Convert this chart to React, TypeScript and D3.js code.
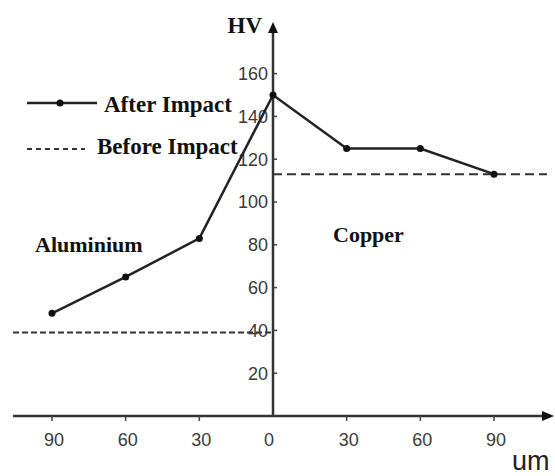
import React from "react";
import * as d3 from "d3";

const positions = [-90, -60, -30, 0, 30, 60, 90];
const afterImpact = [48, 65, 83, 150, 125, 125, 113];
const xTickLabels = ["90", "60", "30", "0", "30", "60", "90"];
const yTicks = [20, 40, 60, 80, 100, 120, 140, 160];
const beforeAluminium = 39;
const beforeCopper = 113;

const W = 555;
const H = 476;

export default function App() {
  const x = d3.scaleLinear().domain([-90, 90]).range([52, 494]);
  const y = d3.scaleLinear().domain([0, 160]).range([416, 73.6]);
  const x0 = x(0);
  const y0 = y(0);
  const axisLeft = 13;
  const axisRight = 554;
  const axisTop = 22;

  const line = d3
    .line<number>()
    .x((_, i) => x(positions[i]))
    .y((d) => y(d));

  const serif = "'Liberation Serif', 'Times New Roman', serif";
  const sans = "'Liberation Sans', Arial, sans-serif";

  return (
    <svg
      width={W}
      height={H}
      style={{ position: "absolute", left: 0, top: 0, background: "#fff" }}
    >
      {/* before impact dashed lines */}
      <line
        x1={axisLeft}
        x2={x0}
        y1={y(beforeAluminium)}
        y2={y(beforeAluminium)}
        stroke="#333"
        strokeWidth={2}
        strokeDasharray="6,3"
      />
      <line
        x1={x0}
        x2={547}
        y1={y(beforeCopper)}
        y2={y(beforeCopper)}
        stroke="#333"
        strokeWidth={2}
        strokeDasharray="9,5"
      />

      {/* axes */}
      <line x1={axisLeft} x2={axisRight - 8} y1={y0} y2={y0} stroke="#333" strokeWidth={2.5} />
      <path
        d={`M${axisRight},${y0} L${axisRight - 12},${y0 - 5} L${axisRight - 12},${y0 + 5} Z`}
        fill="#111"
      />
      <line x1={x0} x2={x0} y1={y0} y2={axisTop + 8} stroke="#333" strokeWidth={2.5} />
      <path
        d={`M${x0},${axisTop} L${x0 - 5},${axisTop + 11} L${x0 + 5},${axisTop + 11} Z`}
        fill="#111"
      />

      {/* y ticks */}
      {yTicks.map((t) => (
        <g key={t}>
          <line x1={x0} x2={x0 + 4} y1={y(t)} y2={y(t)} stroke="#444" strokeWidth={1.5} />
          <text
            x={x0 - 5}
            y={y(t)}
            dy="0.35em"
            textAnchor="end"
            fontFamily={sans}
            fontSize={18}
            fill="#3a3a3a"
          >
            {t}
          </text>
        </g>
      ))}

      {/* x ticks */}
      {positions.map((p, i) => (
        <g key={i}>
          {p !== 0 && (
            <line x1={x(p)} x2={x(p)} y1={y0} y2={y0 + 5} stroke="#444" strokeWidth={1.5} />
          )}
          <text
            x={p === 0 ? x(p) - 4 : x(p) + 2}
            y={446}
            textAnchor="middle"
            fontFamily={sans}
            fontSize={18}
            fill="#3a3a3a"
          >
            {xTickLabels[i]}
          </text>
        </g>
      ))}

      {/* after impact line */}
      <path d={line(afterImpact) || ""} fill="none" stroke="#222" strokeWidth={2.5} />
      {afterImpact.map((v, i) => (
        <circle key={i} cx={x(positions[i])} cy={y(v)} r={3.5} fill="#111" />
      ))}

      {/* labels */}
      <text x={262} y={33} textAnchor="end" fontFamily={serif} fontWeight="bold" fontSize={23} fill="#111">
        HV
      </text>
      <text x={512} y={470} fontFamily={sans} fontSize={27} fill="#222">
        um
      </text>
      <text x={35} y={252} fontFamily={serif} fontWeight="bold" fontSize={22} fill="#111">
        Aluminium
      </text>
      <text x={333} y={242} fontFamily={serif} fontWeight="bold" fontSize={22} fill="#111">
        Copper
      </text>

      {/* legend */}
      <line x1={27} x2={97} y1={103} y2={103} stroke="#222" strokeWidth={2.5} />
      <circle cx={60} cy={103} r={3.5} fill="#111" />
      <text x={104} y={112} fontFamily={serif} fontWeight="bold" fontSize={23} fill="#111">
        After Impact
      </text>
      <line x1={27} x2={85} y1={149} y2={149} stroke="#333" strokeWidth={2} strokeDasharray="5,4" />
      <text x={97} y={154} fontFamily={serif} fontWeight="bold" fontSize={23} fill="#111">
        Before Impact
      </text>
    </svg>
  );
}
